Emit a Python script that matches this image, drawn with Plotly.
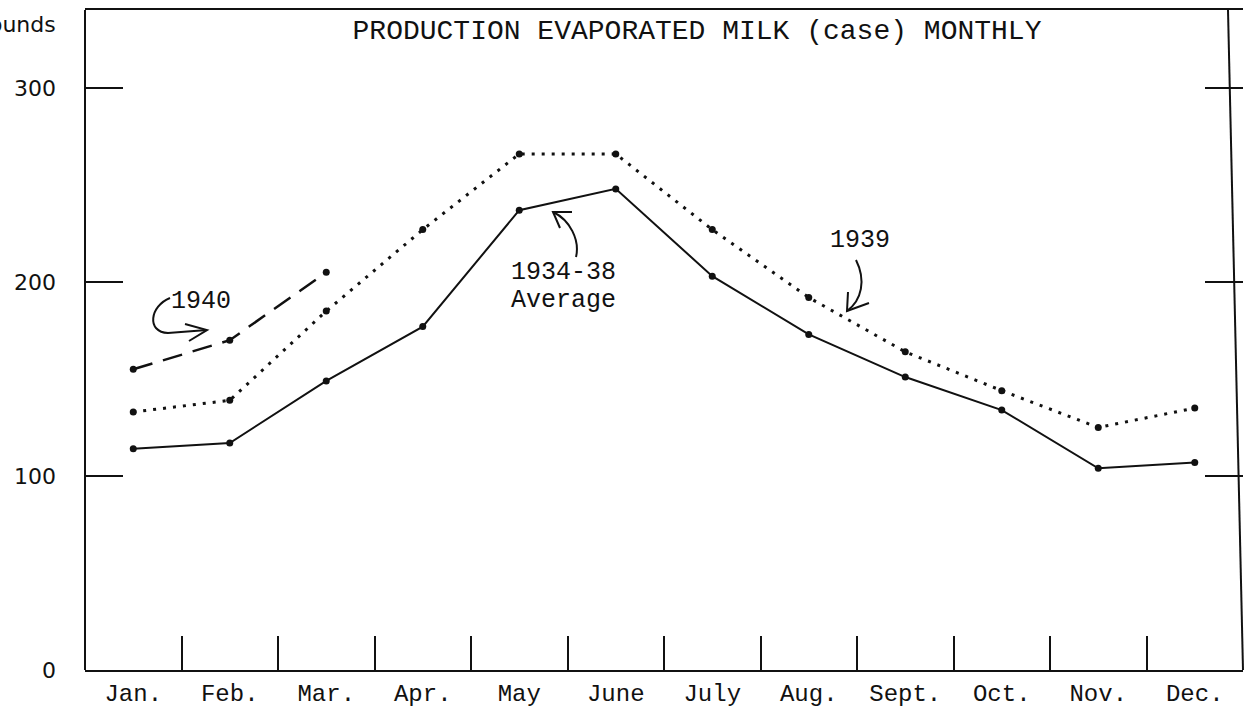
import plotly.graph_objects as go

months = ["Jan.", "Feb.", "Mar.", "Apr.", "May", "June", "July", "Aug.", "Sept.", "Oct.", "Nov.", "Dec."]
avg_1934_38 = [114, 117, 149, 177, 237, 248, 203, 173, 151, 134, 104, 107]
y1939 = [133, 139, 185, 227, 266, 266, 227, 192, 164, 144, 125, 135]
months_1940 = ["Jan.", "Feb.", "Mar."]
y1940 = [155, 170, 205]
y_ticks = [0, 100, 200, 300]

INK = "#111111"
MONO = "Liberation Mono, Courier New, monospace"
SANS = "DejaVu Sans, sans-serif"

W, H = 1252, 708
L, R, T, B = 85, 1243, 10, 670


def px(x, y):
    """pixel -> paper coords for decorations"""
    return (x - L) / (R - L), (B - y) / (B - T)


fig = go.Figure()
fig.add_trace(go.Scatter(x=months, y=avg_1934_38, mode="lines+markers",
                         line=dict(color=INK, width=2),
                         marker=dict(color=INK, size=7), name="1934-38 Average"))
fig.add_trace(go.Scatter(x=months, y=y1939, mode="lines+markers",
                         line=dict(color=INK, width=3, dash="3px,7px"),
                         marker=dict(color=INK, size=7), name="1939"))
fig.add_trace(go.Scatter(x=months_1940, y=y1940, mode="lines+markers",
                         line=dict(color=INK, width=2.5, dash="20px,11px"),
                         marker=dict(color=INK, size=7), name="1940"))

shapes = []
# left border and slanted right border
x0, y0 = px(L, B); x1, y1 = px(L, T)
shapes.append(dict(type="line", xref="paper", yref="paper", x0=x0, y0=y0, x1=x1, y1=y1,
                   line=dict(color=INK, width=2)))
x0, y0 = px(1243, B); x1, y1 = px(1228, T)
shapes.append(dict(type="line", xref="paper", yref="paper", x0=x0, y0=y0, x1=x1, y1=y1,
                   line=dict(color=INK, width=2)))


def path(points, cmd):
    s = ""
    for c, pts in zip(cmd, points):
        s += c + " " + " ".join(f"{px(a, b)[0]:.5f},{px(a, b)[1]:.5f}" for a, b in pts) + " "
    return s.strip()


def curve(segs):
    shapes.append(dict(type="path", xref="paper", yref="paper", path=segs,
                       line=dict(color=INK, width=2)))


# 1940 arrow
curve(path([[(170, 298)], [(150, 306), (146, 332), (168, 333)], [(207, 330)]], ["M", "C", "L"]))
curve(path([[(185, 324)], [(207, 330)], [(189, 341)]], ["M", "L", "L"]))
# 1934-38 arrow
curve(path([[(576, 257)], [(580, 240), (570, 220), (553, 212)]], ["M", "C"]))
curve(path([[(560, 228)], [(553, 212)], [(572, 212)]], ["M", "L", "L"]))
# 1939 arrow
curve(path([[(856, 260)], [(866, 280), (862, 300), (847, 311)]], ["M", "C"]))
curve(path([[(848, 292)], [(847, 311)], [(869, 303)]], ["M", "L", "L"]))

annotations = []


def text(t, x, y, size=25, font=MONO, xanchor="center"):
    ax, ay = px(x, y)
    annotations.append(dict(text=t, x=ax, y=ay, xref="paper", yref="paper", showarrow=False,
                            xanchor=xanchor, yanchor="middle",
                            font=dict(family=font, size=size, color=INK)))


text("1940", 201, 301)
text("1934-38", 563, 272)
text("Average", 563, 300)
text("1939", 860, 240)
text("Million", 76, -8, size=22, font=SANS, xanchor="right")
text("pounds", 58, 24, size=22, font=SANS, xanchor="right")

fig.update_layout(
    width=W, height=H,
    margin=dict(l=L, r=W - R, t=T, b=H - B, autoexpand=False),
    paper_bgcolor="white", plot_bgcolor="white",
    showlegend=False,
    shapes=shapes, annotations=annotations,
    title=dict(text="PRODUCTION EVAPORATED MILK (case) MONTHLY",
               x=697 / W, xanchor="center", xref="container",
               y=1 - 29 / H, yanchor="middle", yref="container",
               font=dict(family=MONO, size=28, color=INK)),
    xaxis=dict(type="category", categoryorder="array", categoryarray=months,
               range=[-0.5, 11.5], tickson="boundaries", automargin=False,
               ticks="inside", ticklen=34, tickwidth=2, tickcolor=INK,
               showline=True, linewidth=2, linecolor=INK, mirror=True,
               showgrid=False, zeroline=False, ticklabelstandoff=0,
               tickfont=dict(family=MONO, size=24, color=INK)),
    yaxis=dict(range=[0, (B - T) / 1.94], tickvals=y_ticks, automargin=False,
               ticktext=[str(v) for v in y_ticks],
               ticks="inside", ticklen=38, tickwidth=2, tickcolor=INK,
               showline=False, mirror="ticks",
               showgrid=False, zeroline=False, ticklabelstandoff=28,
               tickfont=dict(family=SANS, size=22, color=INK)),
)

fig.write_html("out.html", config={"displayModeBar": False},
               post_script="document.body.style.margin='0';document.body.style.overflow='hidden';")
